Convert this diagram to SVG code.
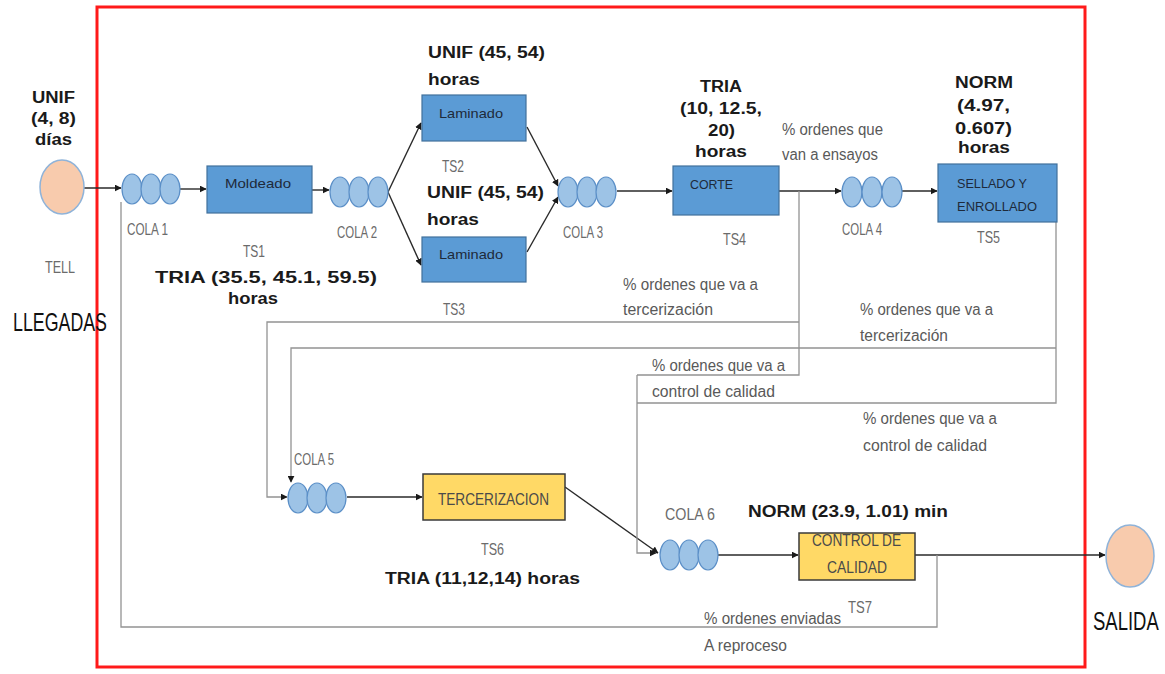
<svg xmlns="http://www.w3.org/2000/svg" width="1165" height="674" viewBox="0 0 1165 674">
  <defs>
    <marker id="arr" viewBox="0 0 10 10" refX="9" refY="5" markerWidth="7" markerHeight="7" orient="auto" markerUnits="userSpaceOnUse">
      <path d="M0,0 L10,5 L0,10 z" fill="#1a1a1a"/>
    </marker>
  </defs>
  <style>
    text { font-family: "Liberation Sans", Arial, sans-serif; }
    .b { font-weight: bold; font-size: 16px; fill: #1a1a1a; }
    .g { font-size: 17px; fill: #6b6b6b; }
    .p { font-size: 16px; fill: #595959; }
    .big { font-size: 25px; fill: #111; }
    .bx { font-size: 13px; fill: #1e2a3a; }
    .yx { font-size: 16px; fill: #4a4a4a; }
    .proc { fill: #5B9BD5; stroke: #41719C; stroke-width: 1.2; }
    .ext { fill: #FFD966; stroke: #3a3a3a; stroke-width: 1.5; }
    .q { fill: #9DC3E6; stroke: #5B8FC7; stroke-width: 1.2; }
    .io { fill: #F8CBAD; stroke: #8FB3D9; stroke-width: 1.5; }
    .flow { fill: none; stroke: #2a2a2a; stroke-width: 1.4; }
    .loop { fill: none; stroke: #939393; stroke-width: 1.3; }
  </style>
  <rect width="1165" height="674" fill="#ffffff"/>

  <!-- system boundary -->
  <rect x="97" y="7" width="988" height="660" fill="none" stroke="#ff1a1a" stroke-width="3"/>

  <!-- connectors -->
  <g id="connectors">
    <line class="flow" x1="84" y1="188" x2="121" y2="188" marker-end="url(#arr)"/>
    <line class="flow" x1="180" y1="189" x2="206" y2="189" marker-end="url(#arr)"/>
    <line class="flow" x1="312" y1="190" x2="329" y2="190" marker-end="url(#arr)"/>
    <line class="flow" x1="388" y1="192" x2="421" y2="123" marker-end="url(#arr)"/>
    <line class="flow" x1="388" y1="192" x2="421" y2="265" marker-end="url(#arr)"/>
    <line class="flow" x1="527" y1="127" x2="558" y2="186" marker-end="url(#arr)"/>
    <line class="flow" x1="527" y1="252" x2="558" y2="197" marker-end="url(#arr)"/>
    <line class="flow" x1="617" y1="191" x2="672" y2="191" marker-end="url(#arr)"/>
    <line class="flow" x1="779" y1="191" x2="841" y2="191" marker-end="url(#arr)"/>
    <line class="flow" x1="902" y1="191" x2="937" y2="191" marker-end="url(#arr)"/>
    <line class="flow" x1="347" y1="497" x2="422" y2="497" marker-end="url(#arr)"/>
    <line class="flow" x1="565" y1="487" x2="658" y2="553" marker-end="url(#arr)"/>
    <line class="flow" x1="718" y1="555" x2="798" y2="555" marker-end="url(#arr)"/>
    <line class="flow" x1="915" y1="555" x2="1105" y2="555" marker-end="url(#arr)"/>

    <!-- CORTE: to tercerizacion and to control de calidad -->
    <polyline class="loop" points="799,191 799,375 637,375"/>
    <polyline class="loop" points="799,322 267,322 267,497 287,497" marker-end="url(#arr)"/>
    <!-- SELLADO: to tercerizacion and to control de calidad -->
    <polyline class="loop" points="1056,222 1056,403 637,403"/>
    <polyline class="loop" points="1056,348 291,348 291,482" marker-end="url(#arr)"/>
    <!-- into COLA 6 -->
    <polyline class="loop" points="637,375 637,553 656,553" marker-end="url(#arr)"/>
    <!-- reproceso -->
    <polyline class="loop" points="937,555 937,627 121,627 121,202"/>
  </g>

  <!-- arrivals -->
  <g id="llegadas">
    <ellipse class="io" cx="62" cy="187" rx="22" ry="27"/>
    <text class="b" x="32" y="103" textLength="43" lengthAdjust="spacingAndGlyphs">UNIF</text>
    <text class="b" x="31" y="124" textLength="45" lengthAdjust="spacingAndGlyphs">(4, 8)</text>
    <text class="b" x="35" y="145" textLength="37" lengthAdjust="spacingAndGlyphs">días</text>
    <text class="g" x="45" y="273" textLength="30" lengthAdjust="spacingAndGlyphs">TELL</text>
    <text class="big" x="13" y="331" textLength="94" lengthAdjust="spacingAndGlyphs">LLEGADAS</text>
  </g>

  <g id="cola1">
    <ellipse class="q" cx="132" cy="189" rx="10" ry="15"/>
    <ellipse class="q" cx="151" cy="189" rx="10" ry="15"/>
    <ellipse class="q" cx="170" cy="189" rx="10" ry="15"/>
    <text class="g" x="127" y="235" textLength="41" lengthAdjust="spacingAndGlyphs">COLA 1</text>
  </g>

  <g id="ts1">
    <rect class="proc" x="207" y="166" width="105" height="47"/>
    <text class="bx" x="225" y="188" textLength="66" lengthAdjust="spacingAndGlyphs">Moldeado</text>
    <text class="g" x="243" y="257" textLength="22" lengthAdjust="spacingAndGlyphs">TS1</text>
    <text class="b" x="155" y="283" textLength="222" lengthAdjust="spacingAndGlyphs">TRIA (35.5, 45.1, 59.5)</text>
    <text class="b" x="228" y="304" textLength="50" lengthAdjust="spacingAndGlyphs">horas</text>
  </g>

  <g id="cola2">
    <ellipse class="q" cx="340" cy="192" rx="10" ry="15"/>
    <ellipse class="q" cx="359" cy="192" rx="10" ry="15"/>
    <ellipse class="q" cx="378" cy="192" rx="10" ry="15"/>
    <text class="g" x="337" y="238" textLength="40" lengthAdjust="spacingAndGlyphs">COLA 2</text>
  </g>

  <g id="ts2">
    <text class="b" x="428" y="58" textLength="117" lengthAdjust="spacingAndGlyphs">UNIF (45, 54)</text>
    <text class="b" x="428" y="85" textLength="52" lengthAdjust="spacingAndGlyphs">horas</text>
    <rect class="proc" x="422" y="95" width="104" height="46"/>
    <text class="bx" x="439" y="118" textLength="64" lengthAdjust="spacingAndGlyphs">Laminado</text>
    <text class="g" x="442" y="172" textLength="22" lengthAdjust="spacingAndGlyphs">TS2</text>
  </g>

  <g id="ts3">
    <text class="b" x="427" y="198" textLength="117" lengthAdjust="spacingAndGlyphs">UNIF (45, 54)</text>
    <text class="b" x="427" y="225" textLength="52" lengthAdjust="spacingAndGlyphs">horas</text>
    <rect class="proc" x="422" y="237" width="104" height="45"/>
    <text class="bx" x="439" y="259" textLength="64" lengthAdjust="spacingAndGlyphs">Laminado</text>
    <text class="g" x="443" y="315" textLength="22" lengthAdjust="spacingAndGlyphs">TS3</text>
  </g>

  <g id="cola3">
    <ellipse class="q" cx="568" cy="192" rx="10" ry="15"/>
    <ellipse class="q" cx="587" cy="192" rx="10" ry="15"/>
    <ellipse class="q" cx="606" cy="192" rx="10" ry="15"/>
    <text class="g" x="563" y="238" textLength="40" lengthAdjust="spacingAndGlyphs">COLA 3</text>
  </g>

  <g id="ts4">
    <text class="b" x="700" y="92" textLength="42" lengthAdjust="spacingAndGlyphs">TRIA</text>
    <text class="b" x="680" y="114" textLength="82" lengthAdjust="spacingAndGlyphs">(10, 12.5,</text>
    <text class="b" x="708" y="136" textLength="27" lengthAdjust="spacingAndGlyphs">20)</text>
    <text class="b" x="695" y="157" textLength="52" lengthAdjust="spacingAndGlyphs">horas</text>
    <rect class="proc" x="673" y="166" width="106" height="49"/>
    <text class="bx" x="690" y="189" textLength="43" lengthAdjust="spacingAndGlyphs">CORTE</text>
    <text class="g" x="723" y="245" textLength="23" lengthAdjust="spacingAndGlyphs">TS4</text>
  </g>

  <g id="cola4">
    <text class="p" x="782" y="135" textLength="101" lengthAdjust="spacingAndGlyphs">% ordenes que</text>
    <text class="p" x="782" y="160" textLength="96" lengthAdjust="spacingAndGlyphs">van a ensayos</text>
    <ellipse class="q" cx="852" cy="192" rx="10" ry="15"/>
    <ellipse class="q" cx="872" cy="192" rx="10" ry="15"/>
    <ellipse class="q" cx="892" cy="192" rx="10" ry="15"/>
    <text class="g" x="842" y="235" textLength="40" lengthAdjust="spacingAndGlyphs">COLA 4</text>
  </g>

  <g id="ts5">
    <text class="b" x="955" y="88" textLength="58" lengthAdjust="spacingAndGlyphs">NORM</text>
    <text class="b" x="957" y="111" textLength="53" lengthAdjust="spacingAndGlyphs">(4.97,</text>
    <text class="b" x="955" y="134" textLength="57" lengthAdjust="spacingAndGlyphs">0.607)</text>
    <text class="b" x="958" y="153" textLength="52" lengthAdjust="spacingAndGlyphs">horas</text>
    <rect class="proc" x="938" y="164" width="119" height="58"/>
    <text class="bx" x="957" y="188" textLength="70" lengthAdjust="spacingAndGlyphs">SELLADO Y</text>
    <text class="bx" x="957" y="211" textLength="80" lengthAdjust="spacingAndGlyphs">ENROLLADO</text>
    <text class="g" x="977" y="243" textLength="23" lengthAdjust="spacingAndGlyphs">TS5</text>
  </g>

  <!-- branch labels -->
  <g id="branch-labels">
    <text class="p" x="623" y="290" textLength="135" lengthAdjust="spacingAndGlyphs">% ordenes que va a</text>
    <text class="p" x="623" y="315" textLength="90" lengthAdjust="spacingAndGlyphs">tercerización</text>
    <text class="p" x="860" y="315" textLength="133" lengthAdjust="spacingAndGlyphs">% ordenes que va a</text>
    <text class="p" x="860" y="341" textLength="88" lengthAdjust="spacingAndGlyphs">tercerización</text>
    <text class="p" x="652" y="371" textLength="133" lengthAdjust="spacingAndGlyphs">% ordenes que va a</text>
    <text class="p" x="652" y="397" textLength="123" lengthAdjust="spacingAndGlyphs">control de calidad</text>
    <text class="p" x="863" y="424" textLength="134" lengthAdjust="spacingAndGlyphs">% ordenes que va a</text>
    <text class="p" x="863" y="451" textLength="124" lengthAdjust="spacingAndGlyphs">control de calidad</text>
    <text class="p" x="704" y="624" textLength="137" lengthAdjust="spacingAndGlyphs">% ordenes enviadas</text>
    <text class="p" x="704" y="651" textLength="83" lengthAdjust="spacingAndGlyphs">A reproceso</text>
  </g>

  <g id="cola5">
    <ellipse class="q" cx="298" cy="498" rx="10" ry="15"/>
    <ellipse class="q" cx="317" cy="498" rx="10" ry="15"/>
    <ellipse class="q" cx="336" cy="498" rx="10" ry="15"/>
    <text class="g" x="294" y="465" textLength="40" lengthAdjust="spacingAndGlyphs">COLA 5</text>
  </g>

  <g id="ts6">
    <rect class="ext" x="423" y="474" width="142" height="46"/>
    <text class="yx" x="438" y="505" textLength="111" lengthAdjust="spacingAndGlyphs">TERCERIZACION</text>
    <text class="g" x="481" y="555" textLength="23" lengthAdjust="spacingAndGlyphs">TS6</text>
    <text class="b" x="385" y="584" textLength="195" lengthAdjust="spacingAndGlyphs">TRIA (11,12,14) horas</text>
  </g>

  <g id="cola6">
    <ellipse class="q" cx="670" cy="555" rx="10" ry="15"/>
    <ellipse class="q" cx="689" cy="555" rx="10" ry="15"/>
    <ellipse class="q" cx="708" cy="555" rx="10" ry="15"/>
    <text class="g" x="665" y="520" textLength="50" lengthAdjust="spacingAndGlyphs">COLA 6</text>
  </g>

  <g id="ts7">
    <text class="b" x="748" y="517" textLength="200" lengthAdjust="spacingAndGlyphs">NORM (23.9, 1.01) min</text>
    <rect class="ext" x="799" y="533" width="116" height="47"/>
    <text class="yx" x="812" y="546" textLength="89" lengthAdjust="spacingAndGlyphs">CONTROL DE</text>
    <text class="yx" x="827" y="573" textLength="60" lengthAdjust="spacingAndGlyphs">CALIDAD</text>
    <text class="g" x="848" y="613" textLength="24" lengthAdjust="spacingAndGlyphs">TS7</text>
  </g>

  <g id="salida">
    <ellipse class="io" cx="1130" cy="556" rx="24" ry="31"/>
    <!-- condensed by a horizontal scale so the word stays inside the canvas -->
    <text class="big" transform="translate(1093,630) scale(0.74,1)" x="0" y="0">SALIDA</text>
  </g>
</svg>
